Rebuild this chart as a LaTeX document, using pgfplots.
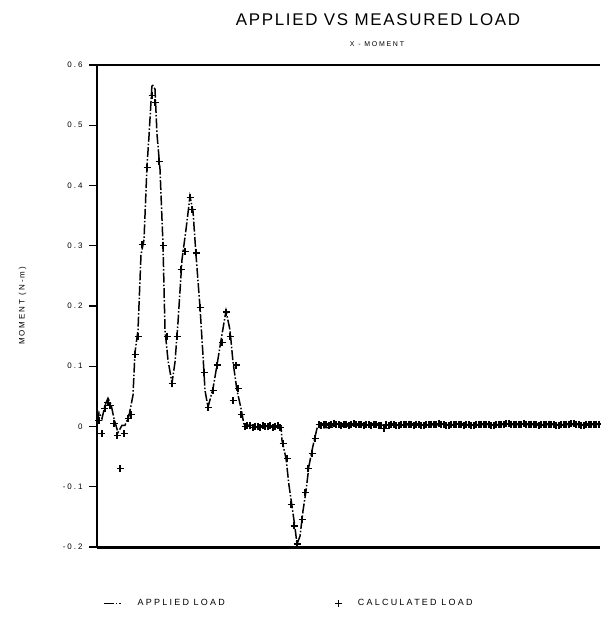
\documentclass[border=0pt]{standalone}
\usepackage{pgfplots}
\pgfplotsset{compat=1.18}
\usepackage{fontspec}
\setmainfont{Liberation Sans}
\newfontfamily\spfont[LetterSpace=25]{Liberation Sans}
\newfontfamily\sptitle[LetterSpace=10]{Liberation Sans}
\begin{document}
\begin{tikzpicture}[x=1bp,y=1bp]
\useasboundingbox (-97,-78) rectangle (504,547);
\begin{axis}[
  at={(0,0)}, anchor=south west,
  scale only axis, width=503bp, height=482bp,
  xmin=0, xmax=503, ymin=-0.2, ymax=0.6,
  axis x line*=box, axis y line*=left,
  xtick=\empty,
  ytick={-0.2,-0.1,0,0.1,0.2,0.3,0.4,0.5,0.6},
  yticklabel style={/pgf/number format/fixed,/pgf/number format/precision=1,font=\fontsize{8}{9}\spfont,xshift=-3bp},
  /pgf/number format/assume math mode=true,
  tick align=outside, major tick length=8bp,
  axis line style={line width=1.3pt},
  every tick/.style={line width=1.2pt,black},
  ylabel={MOMENT (N-m)},
  ylabel style={at={(axis description cs:-0.148,0.5)},anchor=center,font=\fontsize{8}{9}\spfont},
  legend style={at={(0.006,-0.117)},anchor=west,draw=none,fill=none,legend columns=2,
    font=\fontsize{9}{10}\spfont,
    /tikz/every odd column/.append style={column sep=14bp},
    /tikz/every even column/.append style={column sep=108bp}},
  legend cell align=left,
  clip=false,
]
\addplot[black,line width=1.5pt,dash pattern=on 10pt off 2pt on 1.5pt off 2pt] coordinates {
(0,0.007)(2,0.023)(5,0.013)(8,0.035)(11,0.047)(14,0.037)(17,0.013)(21,-0.010)
(25,0.002)(28,0.002)(32,0.018)(36,0.052)(38,0.123)(41,0.160)(44,0.285)(47,0.310)
(50,0.432)(52,0.482)(55,0.568)(58,0.560)(60,0.485)(63,0.427)(66,0.302)(68,0.160)
(71,0.110)(75,0.072)(78,0.107)(81,0.173)(85,0.277)(89,0.327)(93,0.382)(96,0.357)
(99,0.285)(103,0.198)(106,0.118)(108,0.060)(111,0.032)(116,0.063)(120,0.102)
(124,0.143)(129,0.192)(133,0.160)(136,0.107)(140,0.060)(144,0.030)(147,0.003)
(165,0.000)(184,0.000)(185,-0.023)(189,-0.053)(192,-0.098)(195,-0.132)(198,-0.168)
(200,-0.195)(203,-0.182)(206,-0.140)(209,-0.107)(212,-0.065)(216,-0.032)(220,-0.003)
(260,0.002)(350,0.003)(450,0.003)(503,0.003)
};
\addlegendentry{APPLIED LOAD}
\addplot[black,only marks,mark=+,mark size=3.5bp,mark options={line width=1.2pt}] coordinates {
(2,0.010)(5,-0.012)(8,0.030)(11,0.040)(13,0.035)(17,0.005)(20,-0.015)(23,-0.070)
(27,-0.012)(31,0.013)(34,0.020)(38,0.120)(41,0.150)(45,0.302)(50,0.430)(55,0.550)
(58,0.538)(62,0.440)(66,0.300)(70,0.150)(75,0.072)(80,0.150)(84,0.260)(88,0.290)
(93,0.380)(95,0.360)(99,0.288)(103,0.198)(107,0.090)(111,0.032)(116,0.060)(120,0.102)
(125,0.140)(129,0.190)(133,0.150)(136,0.043)(139,0.102)(141,0.063)(144,0.020)
(148,0.000)(150,0.001)(153,0.001)(156,-0.001)(158,0.000)(161,0.000)(163,-0.001)(166,0.001)
(168,0.000)(171,0.000)(173,0.001)(176,-0.001)(178,0.000)(181,0.001)(183,-0.002)
(186,-0.028)(190,-0.053)(194,-0.130)(197,-0.165)(200,-0.195)(205,-0.155)(208,-0.110)
(211,-0.070)(215,-0.045)(218,-0.020)
(222,0.003)(224,0.002)(227,0.004)(229,0.003)(232,0.002)(234,0.004)(237,0.005)(239,0.003)
(242,0.003)(244,0.002)(247,0.004)(249,0.003)(252,0.002)(254,0.004)(257,0.005)(259,0.003)
(262,0.003)(264,0.004)(267,0.002)(269,0.003)(272,0.003)(274,0.002)(277,0.004)(279,0.003)
(282,0.001)(284,0.002)(287,-0.003)(289,0.003)(292,0.002)(294,0.004)(297,0.003)(299,0.002)
(302,0.002)(304,0.003)(307,0.003)(309,0.004)(312,0.004)(314,0.003)(317,0.002)(319,0.004)
(322,0.003)(324,0.002)(327,0.002)(329,0.003)(332,0.003)(334,0.004)(337,0.004)(339,0.003)
(342,0.005)(344,0.004)(347,0.003)(349,0.002)(352,0.002)(354,0.003)(357,0.003)(359,0.004)
(362,0.004)(364,0.003)(367,0.002)(369,0.003)(372,0.003)(374,0.002)(377,0.002)(379,0.003)
(382,0.003)(384,0.004)(387,0.004)(389,0.003)(392,0.003)(394,0.002)(397,0.002)(399,0.003)
(402,0.003)(404,0.004)(407,0.004)(409,0.005)(412,0.005)(414,0.004)(417,0.003)(419,0.004)
(422,0.004)(424,0.003)(427,0.005)(429,0.004)(432,0.003)(434,0.004)(437,0.004)(439,0.003)
(442,0.002)(444,0.003)(447,0.003)(449,0.004)(452,0.004)(454,0.003)(457,0.003)(459,0.002)
(462,0.002)(464,0.003)(467,0.003)(469,0.004)(472,0.004)(474,0.005)(477,0.005)(479,0.004)
(482,0.003)(484,0.002)(487,0.002)(489,0.003)(492,0.004)(494,0.003)(497,0.003)(499,0.004)
(502,0.004)
};
\addlegendentry{CALCULATED LOAD}
\draw[line width=3bp] (axis cs:0,-0.2) -- (axis cs:503,-0.2);
\end{axis}
\node[font=\fontsize{17}{20}\sptitle] at (281,527) {APPLIED VS MEASURED LOAD};
\node[font=\fontsize{7}{8}\spfont] at (280,503) {X - MOMENT};
\end{tikzpicture}
\end{document}
